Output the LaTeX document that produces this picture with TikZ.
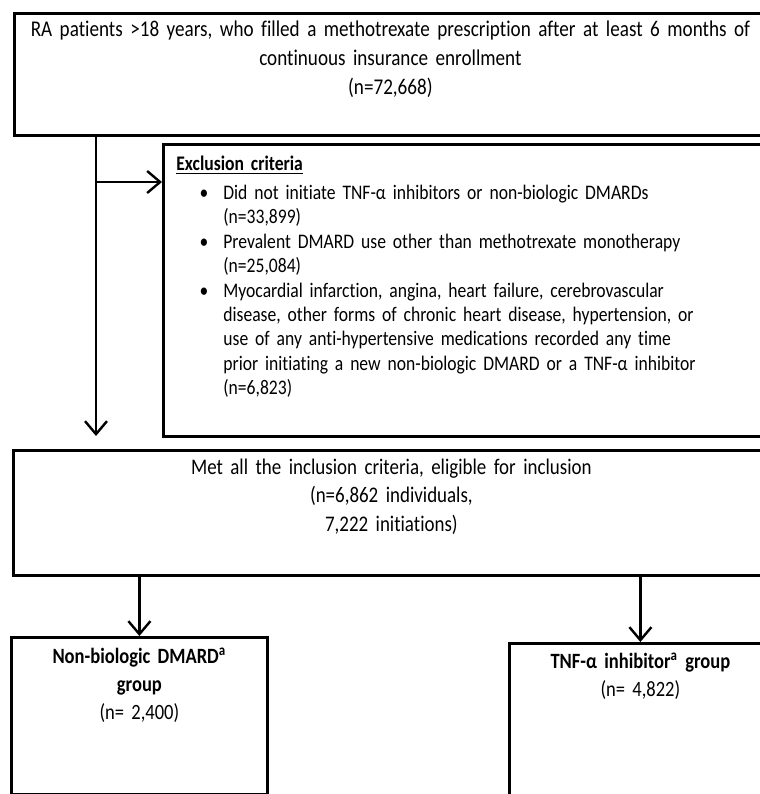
\documentclass[tikz,border=0pt]{standalone}
\usepackage{fontspec}
\setmainfont{Carlito}[Ligatures=NoCommon, FakeStretch=0.85, WordSpace=0.7]
\usetikzlibrary{arrows.meta}
\usetikzlibrary{positioning}

\newcommand{\bul}{\makebox[0pt][r]{•\hspace{7.5pt}}}

\tikzset{
	box/.style={draw, line width=1.4pt, inner sep=0pt, anchor=north west, font=\fontsize{10.9}{14}\selectfont},
	arr/.style={line width=1.2pt, -{Straight Barb[length=6.5pt,width=11pt]}}
}

\begin{document}
\begin{tikzpicture}[x=0.5pt,y=-0.5pt]

				    \useasboundingbox (0,0) rectangle (760,794);
				    \clip (0,0) rectangle (760,794);

				    % Place nodes
				    \node [box, align=center, text width=376pt, text height=11.5pt, text depth=49.5pt, font=\fontsize{11.25}{14.5}\selectfont] (cohort) at (13,12)
				    {RA patients >18 years, who filled a methotrexate prescription after at least 6 months of\\ continuous insurance enrollment\\ (n=72,668)};
				    \node [box, align=left, text width=309pt, text height=13pt, text depth=133pt, font=\fontsize{10.35}{12.2}\selectfont] (excl) at (162,143)
				    {\hspace*{6.5pt}\underline{\textbf{Exclusion criteria}}\par\vspace{2.3pt}
				     \leftskip=30pt
				     \bul Did not initiate TNF-α inhibitors or non-biologic DMARDs\\(n=33,899)\par
				     \bul Prevalent DMARD use other than methotrexate monotherapy\\(n=25,084)\par
				     \bul Myocardial infarction, angina, heart failure, cerebrovascular\\disease, other forms of chronic heart disease, hypertension, or\\use of any anti-hypertensive medications recorded any time\\prior initiating a new non-biologic DMARD or a TNF-α inhibitor\\(n=6,823)\par};
				    \node [box, align=center, text width=378pt, text height=12pt, text depth=50.5pt, font=\fontsize{11.15}{14.25}\selectfont] (eligible) at (12,449)
				    {Met all the inclusion criteria, eligible for inclusion\\ (n=6,862 individuals,\\ 7,222 initiations)};
				    \node [box, align=center, text width=128pt, text height=13pt, text depth=65.5pt] (nbd) at (10,636)
				    {\textbf{Non-biologic DMARD\textsuperscript{a}}\\ \textbf{group}\\ (n= 2,400)};
				    \node [box, align=center, text width=131pt, text height=12.5pt, text depth=70pt] (tnf) at (508,642)
				    {\textbf{TNF-α inhibitor\textsuperscript{a} group}\\ (n= 4,822)};

				    % Connectors
				    \coordinate (split) at (96,182);
				    \draw [arr, shorten >=6.5pt] (cohort.south west -| split) -- (eligible.north west -| split);
				    \draw [arr] (split) -- (split -| excl.west);
				    \draw [arr] (eligible.south -| nbd.north) -- (nbd.north);
				    \draw [arr] (eligible.south -| tnf.north) -- (tnf.north);
\end{tikzpicture}
\end{document}
